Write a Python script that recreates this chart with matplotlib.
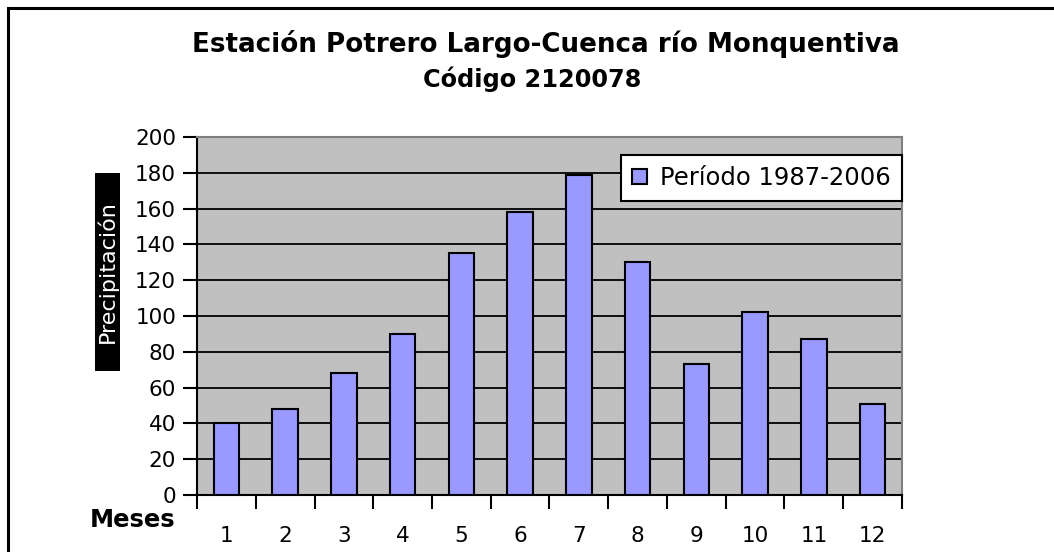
import numpy as np
import matplotlib
matplotlib.use("Agg")
import matplotlib.pyplot as plt
from matplotlib.patches import Rectangle

# datos
meses = [1, 2, 3, 4, 5, 6, 7, 8, 9, 10, 11, 12]
precipitacion = [40, 48, 68, 90, 135, 158, 179, 130, 73, 102, 87, 51]
serie = 'Período 1987-2006'
titulo1 = 'Estación Potrero Largo-Cuenca río Monquentiva'
titulo2 = 'Código 2120078'

W, H = 1054, 552
fig = plt.figure(figsize=(W / 100, H / 100), dpi=100)
fig.patch.set_facecolor('white')

# marco exterior (cortado a la derecha y abajo)
fig.patches.append(Rectangle((8 / W, -0.05), 1.2, 1 - 8 / H + 0.05,
                             transform=fig.transFigure, fill=False,
                             edgecolor='black', linewidth=2.2))

ax = fig.add_axes([197 / W, (H - 495) / H, 705 / W, 358 / H])
ax.set_facecolor('#C0C0C0')

ax.bar(meses, precipitacion, width=0.43, color='#9999FF',
       edgecolor='black', linewidth=1.5, label=serie, zorder=3)

ax.set_xlim(0.5, 12.5)
ax.set_ylim(0, 200)
ax.set_yticks(np.arange(0, 201, 20))
for v in range(20, 200, 20):
    ax.axhline(v, color='black', linewidth=1.3, zorder=1)

# ticks del eje x en los limites de categoria, etiquetas al centro
ax.set_xticks(np.arange(0.5, 13, 1))
ax.set_xticklabels([])
ax.set_xticks(meses, minor=True)
ax.set_xticklabels([str(m) for m in meses], minor=True)
ax.tick_params(axis='x', which='major', direction='out', length=10, width=1.5)
ax.tick_params(axis='x', which='minor', length=0, pad=22, labelsize=15.5)
ax.tick_params(axis='y', direction='out', length=10, width=1.5, pad=5, labelsize=15.5)

for s in ['left', 'bottom']:
    ax.spines[s].set_color('black')
    ax.spines[s].set_linewidth(1.5)
for s in ['top', 'right']:
    ax.spines[s].set_color('#808080')
    ax.spines[s].set_linewidth(1.5)

leg = ax.legend(loc='upper right', bbox_to_anchor=(1.0, 0.95), fontsize=17.5,
                frameon=True, fancybox=False, handlelength=0.6, handleheight=0.6,
                borderpad=0.45, handletextpad=0.55, borderaxespad=0)
leg.get_frame().set_edgecolor('black')
leg.get_frame().set_linewidth(1.5)
leg.get_frame().set_facecolor('white')
leg.get_frame().set_alpha(1)

fig.text(546 / W, 1 - 44 / H, titulo1, ha='center', va='center',
         fontsize=18.8, fontweight='bold')
fig.text(532 / W, 1 - 79 / H, titulo2, ha='center', va='center',
         fontsize=17.3, fontweight='bold')

fig.text(133 / W, 1 - 520 / H, 'Meses', ha='center', va='center',
         fontsize=17.5, fontweight='bold')

# etiqueta del eje y en recuadro negro
fig.patches.append(Rectangle((95 / W, 1 - 371 / H), 25 / W, 198 / H,
                             transform=fig.transFigure, facecolor='black',
                             edgecolor='none'))
fig.text(107.5 / W, 1 - 272 / H, 'Precipitación', rotation=90, ha='center',
         va='center', color='white', fontsize=16)

fig.savefig('out.png', dpi=100)
